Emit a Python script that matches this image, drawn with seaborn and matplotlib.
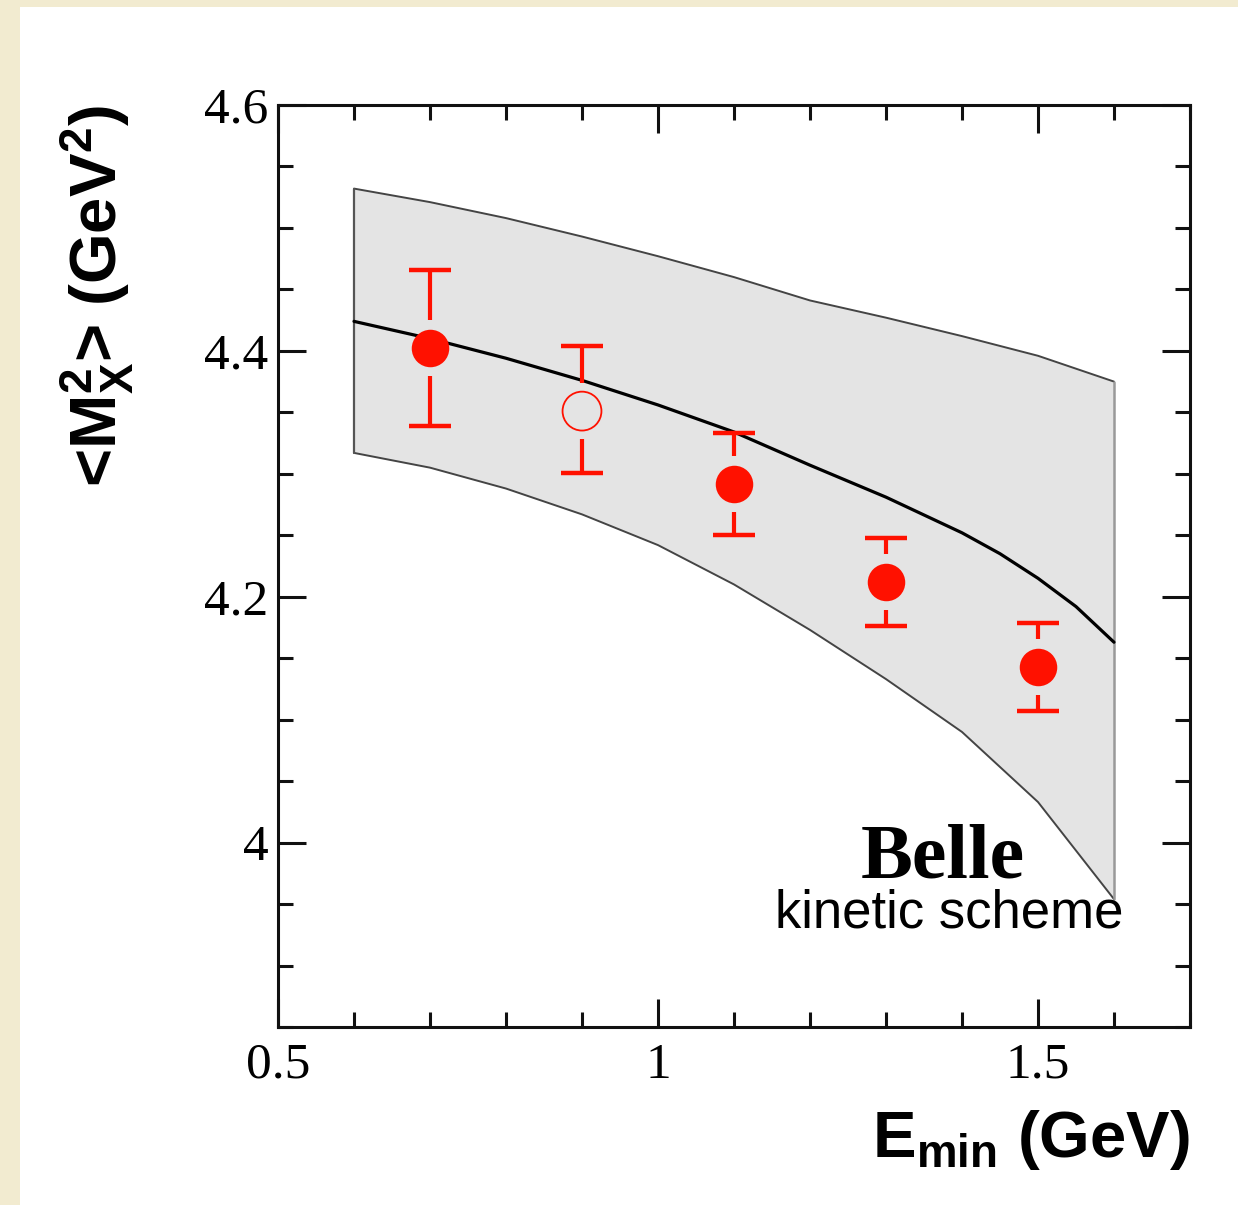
import numpy as np
import pandas as pd
import matplotlib
matplotlib.use("Agg")
import matplotlib.pyplot as plt
from matplotlib.ticker import MultipleLocator, FuncFormatter
from matplotlib.patches import Rectangle
import seaborn as sns

# ---- data ----
band_x = [0.6, 0.7, 0.8, 0.9, 1.0, 1.1, 1.2, 1.3, 1.4, 1.5, 1.6]
band_upper = [4.532, 4.521, 4.508, 4.493, 4.477, 4.460, 4.441, 4.427, 4.412, 4.396, 4.375]
band_lower = [4.317, 4.305, 4.288, 4.267, 4.242, 4.210, 4.173, 4.133, 4.090, 4.033, 3.954]
central_x = [0.6, 0.7, 0.8, 0.9, 1.0, 1.1, 1.2, 1.3, 1.4, 1.45, 1.5, 1.55, 1.6]
central = [4.424, 4.410, 4.394, 4.376, 4.356, 4.334, 4.307, 4.281, 4.252, 4.235, 4.215, 4.192, 4.163]

pts_x = [0.7, 0.9, 1.1, 1.3, 1.5]
pts_y = [4.402, 4.351, 4.292, 4.212, 4.143]
pts_up = [4.466, 4.404, 4.333, 4.248, 4.179]
pts_lo = [4.339, 4.301, 4.250, 4.176, 4.107]
pts_open = [False, True, False, False, False]

x_ticks = [0.5, 1.0, 1.5]
y_ticks = [4.0, 4.2, 4.4, 4.6]

# ---- style ----
sns.set_style("ticks")
plt.rcParams["font.family"] = ["Liberation Serif", "DejaVu Serif"]
plt.rcParams["mathtext.fontset"] = "custom"
plt.rcParams["mathtext.rm"] = "Liberation Sans:bold"
plt.rcParams["mathtext.it"] = "Liberation Sans:bold"
plt.rcParams["mathtext.bf"] = "Liberation Sans:bold"
plt.rcParams["text.color"] = "black"
plt.rcParams["axes.labelcolor"] = "black"
plt.rcParams["xtick.color"] = "black"
plt.rcParams["ytick.color"] = "black"

fig = plt.figure(figsize=(12.38, 12.05), dpi=100)
fig.patch.set_facecolor("white")
beige = "#f2ebd0"
fig.patches.append(Rectangle((0, 0), 20 / 1238, 1, transform=fig.transFigure,
                             facecolor=beige, edgecolor="none", zorder=0))
fig.patches.append(Rectangle((0, 1 - 7 / 1205), 1, 7 / 1205, transform=fig.transFigure,
                             facecolor=beige, edgecolor="none", zorder=0))

ax = fig.add_axes([278 / 1238, 1 - 1027 / 1205, (1190 - 278) / 1238, (1027 - 105) / 1205])
ax.set_facecolor("white")

red = "#ff1100"

# band
ax.fill_between(band_x, band_lower, band_upper, color="#e4e4e4", lw=0, zorder=1)
ax.plot(band_x, band_upper, color="#444444", lw=1.4, zorder=2)
ax.plot(band_x, band_lower, color="#444444", lw=1.4, zorder=2)
ax.plot([band_x[0], band_x[0]], [band_lower[0], band_upper[0]], color="#555555", lw=1.6, zorder=2)
ax.plot([band_x[-1], band_x[-1]], [band_lower[-1], band_upper[-1]], color="#999999", lw=1.8, zorder=2)

# central line
df_c = pd.DataFrame({"x": central_x, "y": central})
sns.lineplot(data=df_c, x="x", y="y", color="black", lw=2.3, ax=ax, zorder=3)

# error bars with gap around marker
gap = 0.0228
for x, y, u, l in zip(pts_x, pts_y, pts_up, pts_lo):
    ax.plot([x, x], [y + gap, u], color=red, lw=3, zorder=4, solid_capstyle="butt")
    ax.plot([x, x], [y - gap, l], color=red, lw=3, zorder=4, solid_capstyle="butt")
    ax.plot([x, x], [u, l], ls="none", marker="_", ms=30, mew=3.2, color=red, zorder=4)

df_p = pd.DataFrame({"x": pts_x, "y": pts_y, "open": pts_open})
filled = df_p[~df_p["open"]]
hollow = df_p[df_p["open"]]
sns.scatterplot(data=filled, x="x", y="y", s=27 ** 2, color=red, edgecolor=red,
                linewidth=0, ax=ax, zorder=5)
sns.scatterplot(data=hollow, x="x", y="y", s=28 ** 2, facecolor="none", edgecolor=red,
                linewidth=1.3, ax=ax, zorder=5)

# axes
ax.set_xlim(0.5, 1.7)
ax.set_ylim(3.85, 4.6)
ax.xaxis.set_major_locator(plt.FixedLocator(x_ticks))
ax.yaxis.set_major_locator(plt.FixedLocator(y_ticks))
ax.xaxis.set_minor_locator(MultipleLocator(0.1))
ax.yaxis.set_minor_locator(MultipleLocator(0.05))
fmt = FuncFormatter(lambda v, p: "%g" % v)
ax.xaxis.set_major_formatter(fmt)
ax.yaxis.set_major_formatter(fmt)
ax.tick_params(which="both", direction="in", top=True, right=True, width=2.2, color="#111111")
ax.tick_params(which="major", length=20, labelsize=37)
ax.tick_params(which="minor", length=10.5)
ax.tick_params(axis="y", which="major", pad=7)
ax.tick_params(axis="x", which="major", pad=11)
for sp in ax.spines.values():
    sp.set_linewidth(2.2)
    sp.set_color("#111111")
    sp.set_visible(True)

ax.set_xlabel(r"E$_{\rm min}$ (GeV)", fontsize=47, fontweight="bold",
              family="Liberation Sans", loc="right", labelpad=14)
ax.set_ylabel(r"<M$^{2}_{\rm X}$> (GeV$^{2}$)", fontsize=47, fontweight="bold",
              family="Liberation Sans", loc="top", labelpad=50)

ax.text(1.375, 3.9715, "Belle", fontsize=56, fontweight="bold", family="Liberation Serif",
        ha="center", va="baseline", zorder=6)
ax.text(1.383, 3.931, "kinetic scheme", fontsize=38, family="Liberation Sans",
        ha="center", va="baseline", zorder=6)

fig.savefig("out.png", dpi=100, facecolor=fig.get_facecolor())
